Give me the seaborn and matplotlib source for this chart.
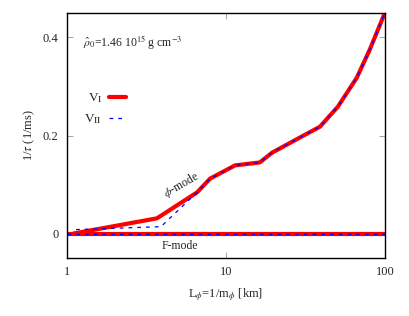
import numpy as np
import pandas as pd
import matplotlib
matplotlib.use("Agg")
import matplotlib.pyplot as plt
import seaborn as sns

# phi-mode damping rate, version I and II
L_phi_I = [1.1, 3.68, 6.58, 7.94, 11.4, 16.3, 19.5, 29.2, 39.0, 50.6, 66.5, 80.4, 100.0]
rate_I = [0.0, 0.031, 0.084, 0.112, 0.139, 0.145, 0.165, 0.196, 0.218, 0.259, 0.318, 0.376, 0.451]

L_phi_II = [1.14, 3.9, 6.58, 7.94, 11.4, 16.3, 19.5, 29.2, 39.0, 50.6, 66.5, 80.4, 100.0]
rate_II = [0.008, 0.014, 0.084, 0.112, 0.139, 0.145, 0.165, 0.196, 0.218, 0.259, 0.318, 0.376, 0.451]

# F-mode (flat at zero)
L_F = [1.0, 100.0]
rate_F = [0.0, 0.0]

sns.set_style("ticks")
plt.rcParams["font.family"] = ["Liberation Serif", "DejaVu Serif"]
plt.rcParams["mathtext.fontset"] = "stix"
plt.rcParams["font.size"] = 9

df_I = pd.DataFrame({"L": L_phi_I, "rate": rate_I})
df_II = pd.DataFrame({"L": L_phi_II, "rate": rate_II})
df_F = pd.DataFrame({"L": L_F, "rate": rate_F})

fig = plt.figure(figsize=(4.1, 3.16), dpi=100)
ax = fig.add_axes([0.1634, 0.1835, 0.7756, 0.7754])

sns.lineplot(data=df_I, x="L", y="rate", ax=ax, color="red", lw=3,
             label=r"V$_{\rm I}$", estimator=None, sort=False)
sns.lineplot(data=df_II, x="L", y="rate", ax=ax, color="blue", lw=0.9,
             dashes=False, linestyle=(0, (3, 4)), label=r"V$_{\rm II}$",
             estimator=None, sort=False)
sns.lineplot(data=df_F, x="L", y="rate", ax=ax, color="red", lw=3,
             estimator=None, legend=False)
sns.lineplot(data=df_F, x="L", y="rate", ax=ax, color="blue", lw=0.9,
             linestyle=(0, (3, 4)), estimator=None, legend=False)

ax.set_xscale("log")
ax.set_xlim(1, 100)
ax.set_ylim(-0.05, 0.45)
ax.set_xticks([1, 10, 100])
ax.set_xticklabels(["1", "10", "100"])
ax.xaxis.set_minor_locator(matplotlib.ticker.NullLocator())
ax.set_yticks([0, 0.2, 0.4])
ax.set_yticklabels(["0", "0.2", "0.4"])
ax.tick_params(direction="in", top=True, right=True, length=4, width=0.5,
               color="gray", labelsize=9, pad=6)
for s in ax.spines.values():
    s.set_linewidth(1.0)
    s.set_color("black")

ax.set_xlabel(r"L$_{\phi}$=1/m$_{\phi}$ [km]", fontsize=9, labelpad=6)
ax.set_ylabel(r"1/$\tau$ (1/ms)", fontsize=9, labelpad=4)

ax.text(0.05, 0.88, r"$\hat{\rho}_0$=1.46 10$^{15}$ g cm$^{-3}$",
        transform=ax.transAxes, fontsize=8.5, va="center")
ax.text(0.36, 0.30, r"$\phi$-mode", transform=ax.transAxes, fontsize=8.5,
        rotation=30, ha="center", va="center")
ax.text(0.355, 0.05, "F-mode", transform=ax.transAxes, fontsize=8.5,
        ha="center", va="center")

ax.legend(loc="upper left", bbox_to_anchor=(0.055, 0.68), frameon=False,
          markerfirst=False, handlelength=1.3, fontsize=9.5,
          borderpad=0, borderaxespad=0,
          labelspacing=0.55, handletextpad=0.5)

fig.savefig("out.png", dpi=100)
